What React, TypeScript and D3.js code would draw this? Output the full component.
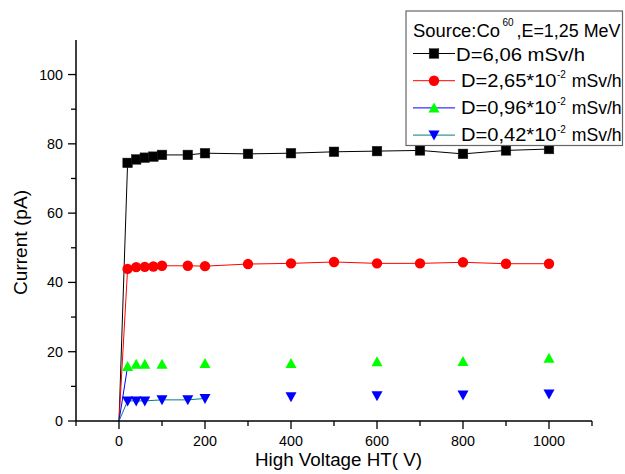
import React from 'react';
import * as d3 from 'd3';

const W = 625;
const H = 474;

// Data (High voltage in V, current in pA)
const hvBlack = [0, 20, 40, 60, 80, 100, 160, 200, 300, 400, 500, 600, 700, 800, 900, 1000];
const curBlack = [0, 74.5, 75.5, 76.0, 76.3, 76.8, 76.8, 77.3, 77.1, 77.3, 77.7, 77.9, 78.1, 77.1, 78.1, 78.5];
const hvRed = [0, 20, 40, 60, 80, 100, 160, 200, 300, 400, 500, 600, 700, 800, 900, 1000];
const curRed = [0, 43.9, 44.4, 44.5, 44.6, 44.8, 44.8, 44.7, 45.3, 45.5, 45.9, 45.5, 45.5, 45.8, 45.4, 45.4];
const hvGreen = [0, 20, 40, 60, 100, 200, 400, 600, 800, 1000];
const curGreen = [0, 15.7, 16.4, 16.4, 16.4, 16.6, 16.6, 17.1, 17.2, 18.1];
const hvBlue = [0, 20, 40, 60, 100, 160, 200, 400, 600, 800, 1000];
const curBlue = [0, 5.8, 5.8, 5.8, 6.1, 6.1, 6.5, 7.0, 7.3, 7.5, 7.8];

// number of leading points joined by the connecting line
const joinedBlack = hvBlack.length;
const joinedRed = hvRed.length;
const joinedGreen = 2;
const joinedBlue = 7;

const xTicksMajor = [0, 200, 400, 600, 800, 1000];
const xTicksMinor = [-100, 100, 300, 500, 700, 900, 1100];
const yTicksMajor = [0, 20, 40, 60, 80, 100];
const yTicksMinor = [10, 30, 50, 70, 90];

const xDomain = [-100, 1100];
const yDomain = [0, 110];

const xTitle = 'High Voltage HT( V)';
const yTitle = 'Current (pA)';
const legendTitleA = 'Source:Co';
const legendTitleSup = '60';
const legendTitleB = ',E=1,25 MeV';
const legendSeries = [
  { main: 'D=6,06 mSv/h', sup: '', tail: '' },
  { main: 'D=2,65*10', sup: '-2', tail: 'mSv/h' },
  { main: 'D=0,96*10', sup: '-2', tail: 'mSv/h' },
  { main: 'D=0,42*10', sup: '-2', tail: 'mSv/h' },
];

const FONT = 'Liberation Sans, Arial, sans-serif';

type Shape = 'square' | 'circle' | 'up' | 'down';

function Marker({ shape, cx, cy, fill }: { shape: Shape; cx: number; cy: number; fill: string }) {
  if (shape === 'square') return <rect x={cx - 4.8} y={cy - 4.8} width={9.6} height={9.6} fill={fill} stroke="#222" strokeWidth={0.5} />;
  if (shape === 'circle') return <circle cx={cx} cy={cy} r={5.2} fill={fill} />;
  if (shape === 'up') return <path d={`M${cx},${cy - 5.5}L${cx + 5.5},${cy + 4.5}L${cx - 5.5},${cy + 4.5}Z`} fill={fill} />;
  return <path d={`M${cx - 5.5},${cy - 4.5}L${cx + 5.5},${cy - 4.5}L${cx},${cy + 5.5}Z`} fill={fill} />;
}

export default function App() {
  const x = d3.scaleLinear().domain(xDomain).range([76, 592]);
  const y = d3.scaleLinear().domain(yDomain).range([421, 39.9]);

  const series = [
    { hv: hvBlack, cur: curBlack, joined: joinedBlack, line: '#000000', fill: '#000000', shape: 'square' as Shape },
    { hv: hvRed, cur: curRed, joined: joinedRed, line: '#ff0000', fill: '#ff0000', shape: 'circle' as Shape },
    { hv: hvGreen, cur: curGreen, joined: joinedGreen, line: '#0000ff', fill: '#00ff00', shape: 'up' as Shape },
    { hv: hvBlue, cur: curBlue, joined: joinedBlue, line: '#008080', fill: '#0000ff', shape: 'down' as Shape },
  ];

  const lineGen = d3
    .line<[number, number]>()
    .x((d) => x(d[0]))
    .y((d) => y(d[1]));

  const x0 = x.range()[0];
  const y0 = y.range()[0];

  const legX = 406;
  const legY = 11;
  const rowY = (i: number) => 53.5 + i * 27.2;

  return (
    <svg width={W} height={H} style={{ position: 'absolute', left: 0, top: 0, background: '#fff' }} fontFamily={FONT}>
      <rect width={W} height={H} fill="#fff" />
      {/* series lines */}
      {series.map((s, i) => {
        const pts: [number, number][] = s.hv.slice(0, s.joined).map((v, k) => [v, s.cur[k]]);
        return <path key={'l' + i} d={lineGen(pts) || ''} fill="none" stroke={s.line} strokeWidth={1} />;
      })}
      {/* markers */}
      {series.map((s, i) =>
        s.hv.map((v, k) =>
          v > 0 ? <Marker key={`m${i}-${k}`} shape={s.shape} cx={x(v)} cy={y(s.cur[k])} fill={s.fill} /> : null
        )
      )}

      {/* axes */}
      <line x1={x0} x2={x0} y1={y.range()[1]} y2={y0} stroke="#000" strokeWidth={1.5} />
      <line x1={x0} x2={x.range()[1]} y1={y0} y2={y0} stroke="#000" strokeWidth={1.5} />
      {xTicksMajor.map((t) => (
        <g key={'xt' + t}>
          <line x1={x(t)} x2={x(t)} y1={y0} y2={y0 + 8} stroke="#000" strokeWidth={1.3} />
          <text x={x(t)} y={446} textAnchor="middle" fontSize={14.3} fill="#000">
            {t}
          </text>
        </g>
      ))}
      {xTicksMinor.map((t) => (
        <line key={'xm' + t} x1={x(t)} x2={x(t)} y1={y0} y2={y0 + 5} stroke="#000" strokeWidth={1.3} />
      ))}
      {yTicksMajor.map((t) => (
        <g key={'yt' + t}>
          <line x1={x0 - 8} x2={x0} y1={y(t)} y2={y(t)} stroke="#000" strokeWidth={1.3} />
          <text x={63} y={y(t) + 5} textAnchor="end" fontSize={14.3} fill="#000">
            {t}
          </text>
        </g>
      ))}
      {yTicksMinor.map((t) => (
        <line key={'ym' + t} x1={x0 - 5} x2={x0} y1={y(t)} y2={y(t)} stroke="#000" strokeWidth={1.3} />
      ))}

      {/* axis titles */}
      <text x={255} y={466} fontSize={17.5} fill="#000" textLength={167} lengthAdjust="spacingAndGlyphs">
        {xTitle}
      </text>
      <text
        transform="translate(27,295) rotate(-90)"
        fontSize={17.5}
        fill="#000"
        textLength={105}
        lengthAdjust="spacingAndGlyphs"
      >
        {yTitle}
      </text>

      {/* legend */}
      <rect x={legX} y={legY} width={216.5} height={134.5} fill="#fff" stroke="#666" strokeWidth={1.2} />
      <text x={413} y={36.7} fontSize={18} fill="#000" textLength={87} lengthAdjust="spacingAndGlyphs">
        {legendTitleA}
      </text>
      <text x={502.5} y={25.5} fontSize={10} fill="#000">
        {legendTitleSup}
      </text>
      <text x={516.5} y={36.7} fontSize={18} fill="#000" textLength={104} lengthAdjust="spacingAndGlyphs">
        {legendTitleB}
      </text>
      {series.map((s, i) => {
        const cy = rowY(i);
        const row = legendSeries[i];
        return (
          <g key={'lg' + i}>
            <line x1={413} x2={455} y1={cy} y2={cy} stroke={s.line} strokeWidth={1} />
            <Marker shape={s.shape} cx={434} cy={cy} fill={s.fill} />
            {row.sup ? (
              <g>
                <text x={461} y={cy + 6} fontSize={18} fill="#000" textLength={95.5} lengthAdjust="spacingAndGlyphs">
                  {row.main}
                </text>
                <text x={557} y={cy - 2.5} fontSize={10} fill="#000">
                  {row.sup}
                </text>
                <text x={571.7} y={cy + 6} fontSize={18} fill="#000" textLength={50} lengthAdjust="spacingAndGlyphs">
                  {row.tail}
                </text>
              </g>
            ) : (
              <text x={456} y={cy + 7} fontSize={18} fill="#000" textLength={129} lengthAdjust="spacingAndGlyphs">
                {row.main}
              </text>
            )}
          </g>
        );
      })}
    </svg>
  );
}
